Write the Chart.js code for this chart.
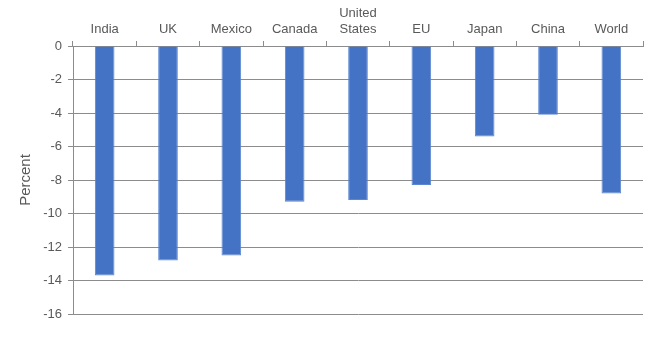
<!DOCTYPE html>
<html>
<head>
<meta charset="utf-8">
<script src="https://cdn.jsdelivr.net/npm/chart.js@4/dist/chart.umd.min.js"></script>
<style>
  html, body { margin: 0; padding: 0; background: #fff; }
  #wrap { width: 669px; height: 360px; position: relative; }
</style>
</head>
<body>
<div id="wrap"><canvas id="chart"></canvas></div>
<script>
// Variación porcentual por país / región
const categories = ['India', 'UK', 'Mexico', 'Canada', ['United', 'States'], 'EU', 'Japan', 'China', 'World'];
const values = [-13.7, -12.8, -12.5, -9.3, -9.2, -8.3, -5.4, -4.1, -8.8];
const yTicks = { min: -16, max: 0, step: 2 };

const gridColor = '#8c8c8c';
const textColor = '#595959';
const font = { family: 'Liberation Sans', size: 13 };

new Chart(document.getElementById('chart'), {
  type: 'bar',
  data: {
    labels: categories,
    datasets: [{
      label: 'Percent',
      data: values,
      backgroundColor: '#4472C4',
      borderColor: '#5b86d1',
      borderWidth: 1,
      categoryPercentage: 1,
      barPercentage: 0.31
    }]
  },
  options: {
    responsive: true,
    maintainAspectRatio: false,
    animation: false,
    layout: { padding: { left: 0, right: 26, top: 0, bottom: 46 } },
    plugins: {
      legend: { display: false },
      tooltip: { enabled: false }
    },
    scales: {
      x: {
        position: 'top',
        afterFit: (scale) => { scale.height = 46; },
        grid: {
          offset: true,
          drawOnChartArea: false,
          drawTicks: true,
          tickLength: 5,
          color: gridColor
        },
        border: { display: true, color: gridColor, width: 1 },
        ticks: { color: textColor, font, padding: 4, maxRotation: 0, autoSkip: false }
      },
      y: {
        min: yTicks.min,
        max: yTicks.max,
        afterFit: (scale) => { scale.width = 73; },
        grid: { color: gridColor, lineWidth: 1, tickLength: 5 },
        border: { display: true, color: gridColor, width: 1 },
        ticks: { stepSize: yTicks.step, color: textColor, font, padding: 6 },
        title: {
          display: true,
          text: 'Percent',
          color: textColor,
          font: { family: 'Liberation Sans', size: 15 },
          padding: { top: 17, bottom: 0 }
        }
      }
    }
  }
});
</script>
</body>
</html>
